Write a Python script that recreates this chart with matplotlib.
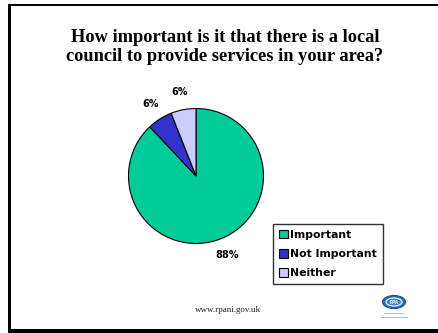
import matplotlib
matplotlib.use("Agg")
import matplotlib.pyplot as plt
from matplotlib.patches import Patch, Ellipse, Rectangle

W, H = 438, 333
DPI = 100

categories = ["Important", "Not Important", "Neither"]
values = [88, 6, 6]
colors = ["#00CC99", "#3333CC", "#CCCCFF"]

title = "How important is it that there is a local\ncouncil to provide services in your area?"
footer = "www.rpani.gov.uk"

fig = plt.figure(figsize=(W / DPI, H / DPI), dpi=DPI)
fig.patch.set_facecolor("white")


def fx(px):
    return px / W


def fy(py):
    return 1 - py / H


# slide frame
frame_ax = fig.add_axes([0, 0, 1, 1])
frame_ax.set_xlim(0, W)
frame_ax.set_ylim(H, 0)
frame_ax.axis("off")
frame_ax.add_patch(Rectangle((8, 4), 2.5, 328, color="black", lw=0))
frame_ax.add_patch(Rectangle((8, 4), 430, 2.2, color="black", lw=0))
frame_ax.add_patch(Rectangle((8, 329), 430, 4, color="black", lw=0))

# title
fig.text(fx(225), fy(47), title, ha="center", va="center",
         family="Liberation Serif", fontweight="bold", fontsize=13.2,
         linespacing=1.12)

# pie
R = 67.5
cx, cy = 196, 176
box = 75
ax = fig.add_axes([fx(cx - box), fy(cy + box), 2 * box / W, 2 * box / H])
ax.set_xlim(-box, box)
ax.set_ylim(-box, box)
ax.set_aspect("equal")
ax.axis("off")
wedges, texts, autotexts = ax.pie(
    values, colors=colors, startangle=90, counterclock=False, radius=R,
    autopct=lambda p: f"{p:.0f}%", pctdistance=1.26,
    wedgeprops=dict(edgecolor="black", linewidth=0.8),
    textprops=dict(family="DejaVu Sans", fontweight="bold", fontsize=7),
)
ax.set_xlim(-box, box)
ax.set_ylim(-box, box)

# legend
handles = [Patch(facecolor=c, edgecolor="black", linewidth=0.8) for c in colors]
leg = fig.legend(handles, categories, loc="upper left",
                 bbox_to_anchor=(fx(273), fy(224)),
                 prop=dict(family="DejaVu Sans", weight="bold", size=7.8),
                 frameon=True, fancybox=False, borderpad=0.55,
                 handlelength=0.8, handleheight=0.8, handletextpad=0.2,
                 labelspacing=0.85, borderaxespad=0)
leg.get_frame().set_edgecolor("black")
leg.get_frame().set_linewidth(1.0)

# footer
fig.text(fx(228), fy(310), footer, ha="center", va="center",
         family="Liberation Serif", fontsize=6.5, color="#222222")

# logo
frame_ax.add_patch(Ellipse((394, 302), 23, 13, facecolor="#2A6FB5",
                           edgecolor="#1B4F8C", lw=0.8))
frame_ax.add_patch(Ellipse((394, 302), 16, 8, facecolor="#3D86CF",
                           edgecolor="white", lw=0.8))
frame_ax.text(394, 302.3, "RPA", ha="center", va="center", color="white",
              fontsize=3.3, fontweight="bold", family="Liberation Sans")
frame_ax.add_patch(Rectangle((384, 313), 20, 1, color="#A9BCD6", lw=0))
frame_ax.add_patch(Rectangle((381, 317), 27, 1, color="#A9BCD6", lw=0))

fig.savefig("out.png", dpi=DPI)
